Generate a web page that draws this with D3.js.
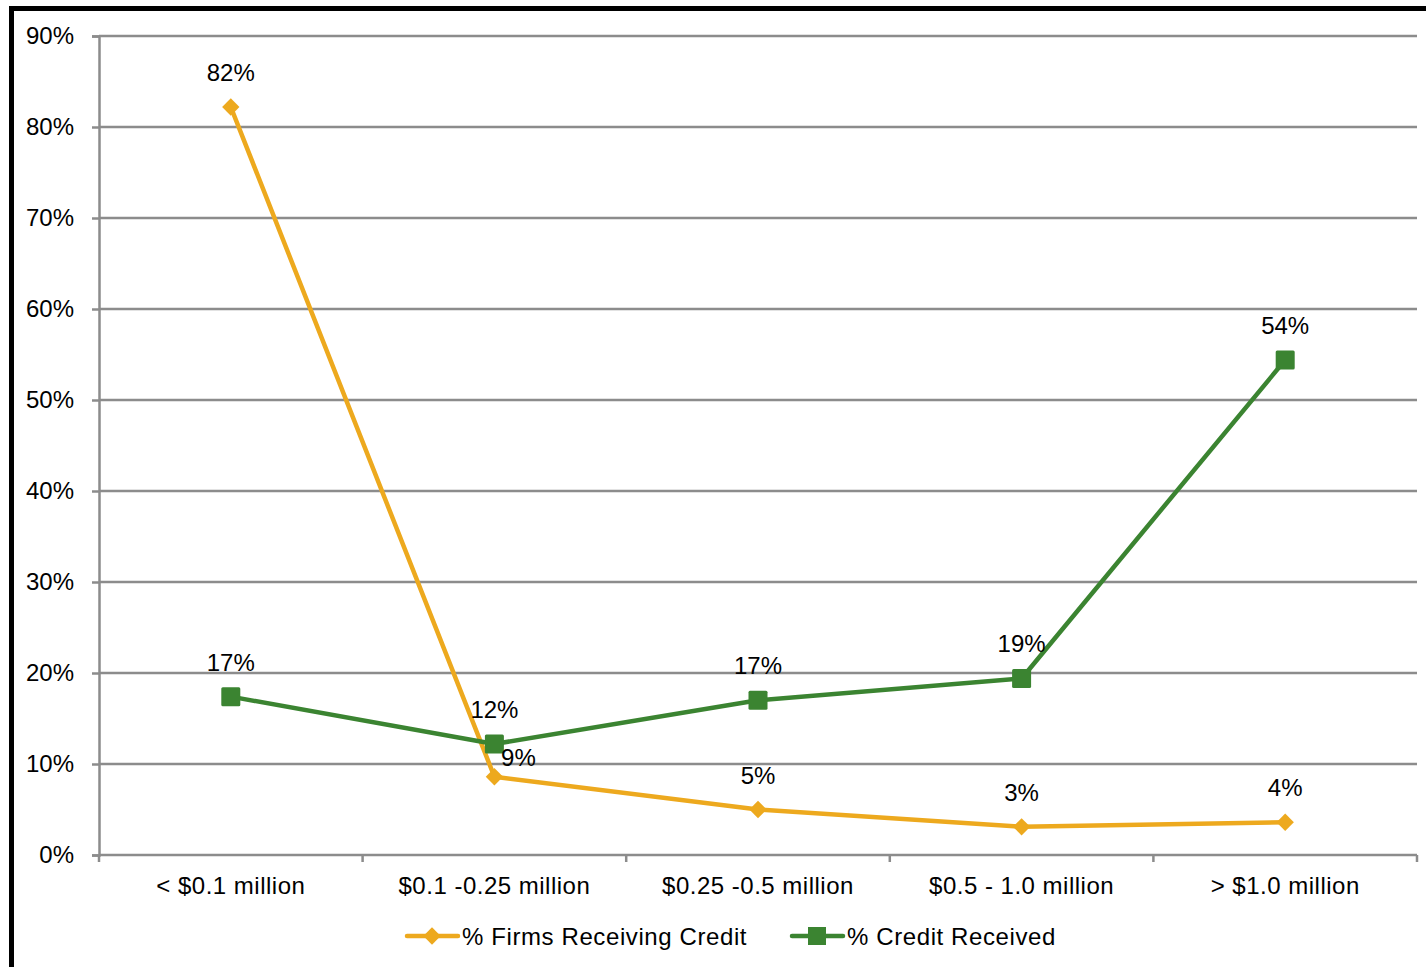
<!DOCTYPE html>
<html>
<head>
<meta charset="utf-8">
<script src="https://cdn.jsdelivr.net/npm/d3@7"></script>
<style>
  body { margin: 0; background: #fff; }
  text { font-family: "Liberation Sans", Arial, sans-serif; fill: #000; }
</style>
</head>
<body>
<div id="chart"></div>
<script>
// data
const categories = ["< $0.1 million", "$0.1 -0.25 million", "$0.25 -0.5 million", "$0.5 - 1.0 million", "> $1.0 million"];
const firmsReceiving = [82.2, 8.6, 5.0, 3.1, 3.6];
const creditReceived = [17.4, 12.2, 17.0, 19.4, 54.4];
const firmsLabels = ["82%", "9%", "5%", "3%", "4%"];
const creditLabels = ["17%", "12%", "17%", "19%", "54%"];
const yTicks = [0, 10, 20, 30, 40, 50, 60, 70, 80, 90];

const width = 1426, height = 967;
const margin = {top: 36, right: 9, bottom: 112, left: 99};
const fs = "24px";

const orange = "#EDA91E", green = "#3B8431", grid = "#8c8c8c";

const svg = d3.select("#chart").append("svg")
  .attr("width", width).attr("height", height);

// outer frame (only left and top visible)
svg.append("path")
  .attr("d", `M11.5,${height} V8.5 H${width}`)
  .attr("fill", "none").attr("stroke", "#000").attr("stroke-width", 5);

const x = d3.scaleBand().domain(categories)
  .range([margin.left, width - margin.right]);
const y = d3.scaleLinear().domain([0, 90])
  .range([height - margin.bottom, margin.top]);

// gridlines
svg.append("g").selectAll("line")
  .data(yTicks.slice(1)).enter().append("line")
  .attr("x1", margin.left).attr("x2", width - margin.right)
  .attr("y1", d => y(d)).attr("y2", d => y(d))
  .attr("stroke", grid).attr("stroke-width", 2.5);

// y axis
const yAxis = svg.append("g")
  .attr("transform", `translate(${margin.left},0)`)
  .call(d3.axisLeft(y).tickValues(yTicks).tickSize(7).tickPadding(18)
    .tickFormat(d => d + "%"));
yAxis.select(".domain").attr("stroke", grid).attr("stroke-width", 2.5);
yAxis.selectAll(".tick line").attr("stroke", grid).attr("stroke-width", 2.5);
yAxis.selectAll(".tick text").style("font-size", fs)
  .attr("font-family", null).attr("fill", "#000");

// x axis - ticks at band boundaries
const xg = svg.append("g")
  .attr("transform", `translate(0,${y(0)})`);
xg.append("line")
  .attr("x1", margin.left).attr("x2", width - margin.right)
  .attr("stroke", grid).attr("stroke-width", 2.5);
const edges = categories.map(c => x(c)).concat([x(categories[categories.length - 1]) + x.bandwidth()]);
xg.selectAll(".edge").data(edges).enter().append("line")
  .attr("x1", d => d).attr("x2", d => d).attr("y1", 0).attr("y2", 7)
  .attr("stroke", grid).attr("stroke-width", 2.5);
xg.selectAll(".cat").data(categories).enter().append("text")
  .attr("x", d => x(d) + x.bandwidth() / 2)
  .attr("y", 39)
  .attr("text-anchor", "middle")
  .style("font-size", fs).style("letter-spacing", "0.5px")
  .text(d => d);

const cx = (d, i) => x(categories[i]) + x.bandwidth() / 2;
const line = d3.line().x(cx).y(d => y(d));

// series 1: firms receiving credit
svg.append("path").datum(firmsReceiving)
  .attr("d", line).attr("fill", "none")
  .attr("stroke", orange).attr("stroke-width", 4.5).attr("stroke-linejoin", "round");
svg.append("g").selectAll("path").data(firmsReceiving).enter().append("path")
  .attr("d", d3.symbol(d3.symbolSquare, 150))
  .attr("transform", (d, i) => `translate(${cx(d, i)},${y(d)}) rotate(45)`)
  .attr("fill", orange);

// series 2: credit received
svg.append("path").datum(creditReceived)
  .attr("d", line).attr("fill", "none")
  .attr("stroke", green).attr("stroke-width", 4.5).attr("stroke-linejoin", "round");
svg.append("g").selectAll("rect").data(creditReceived).enter().append("rect")
  .attr("x", (d, i) => cx(d, i) - 9.5).attr("y", d => y(d) - 9.5)
  .attr("width", 19).attr("height", 19).attr("rx", 1.5)
  .attr("fill", green);

// data labels (the 9% label sits to the right of its point)
const labelShift = {"firms-1": [24, 15]};
function labels(vals, texts, key) {
  svg.append("g").selectAll("text").data(vals).enter().append("text")
    .attr("x", (d, i) => cx(d, i) + (labelShift[key + "-" + i] || [0, 0])[0])
    .attr("y", (d, i) => y(d) - 26 + (labelShift[key + "-" + i] || [0, 0])[1])
    .attr("text-anchor", "middle")
    .style("font-size", fs)
    .text((d, i) => texts[i]);
}
labels(firmsReceiving, firmsLabels, "firms");
labels(creditReceived, creditLabels, "credit");

// legend
const legend = svg.append("g").attr("transform", "translate(0,936)");
const items = [
  {name: "% Firms Receiving Credit", color: orange, x: 407, marker: "diamond"},
  {name: "% Credit Received", color: green, x: 792, marker: "square"}
];
items.forEach(it => {
  legend.append("line").attr("x1", it.x).attr("x2", it.x + 51)
    .attr("stroke", it.color).attr("stroke-width", 4.5).attr("stroke-linecap", "round");
  if (it.marker === "diamond") {
    legend.append("path").attr("d", d3.symbol(d3.symbolSquare, 150))
      .attr("transform", `translate(${it.x + 25},0) rotate(45)`).attr("fill", it.color);
  } else {
    legend.append("rect").attr("x", it.x + 16).attr("y", -9)
      .attr("width", 18).attr("height", 18).attr("fill", it.color);
  }
  legend.append("text").attr("x", it.x + 55).attr("y", 8.5)
    .style("font-size", fs).style("letter-spacing", "0.6px")
    .text(it.name);
});
</script>
</body>
</html>
